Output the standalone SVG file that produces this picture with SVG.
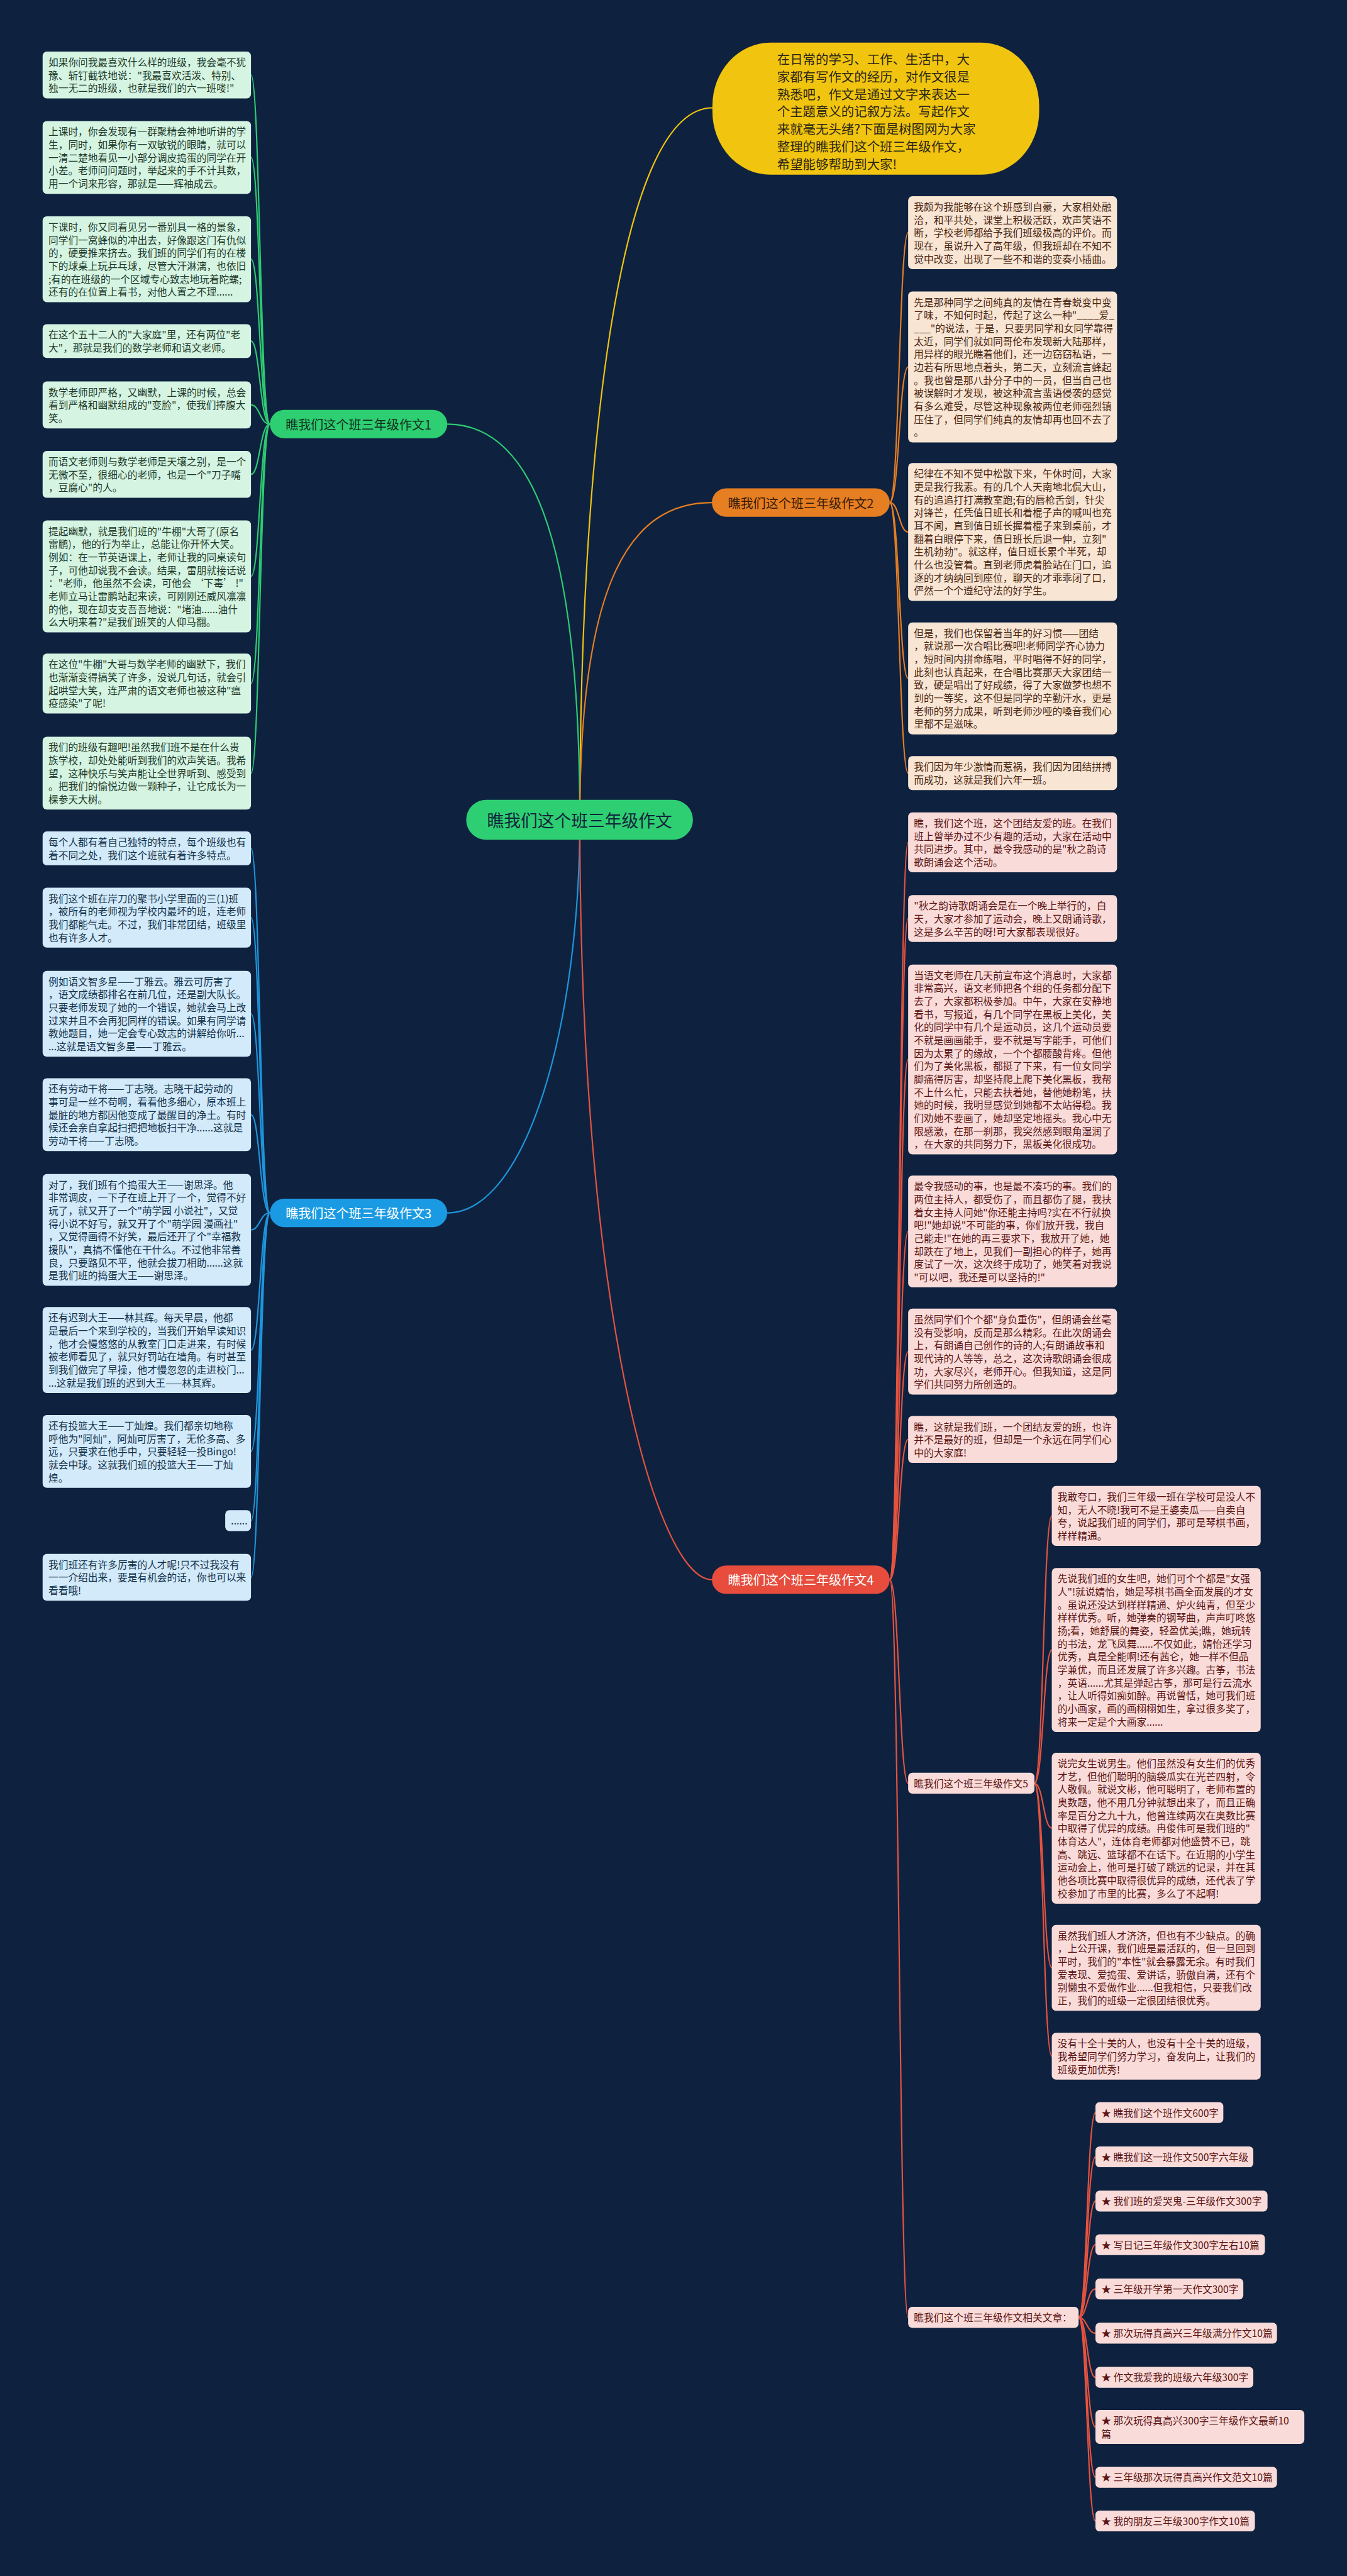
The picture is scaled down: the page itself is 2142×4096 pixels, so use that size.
<svg xmlns="http://www.w3.org/2000/svg" width="2142" height="4096" viewBox="0 0 2142 4096">
<style>
.t{font-family:"Noto Sans CJK SC","Noto Sans",sans-serif;font-size:18.8px}
.lg rect{fill:#d6f4e2}.lg text{fill:#1d3a2b}
.lb rect{fill:#d2eaf9}.lb text{fill:#13314c}
.lo rect{fill:#f8e5d3}.lo text{fill:#4a2612}
.lr rect{fill:#f9dcd9}.lr text{fill:#5c1515}
.c path{fill:none;stroke-width:2.6;stroke-linecap:round}
.cg{stroke:#2ecc71}.co{stroke:#e67e22}.cb{stroke:#1e96dc}.cr{stroke:#e5533f}.cy{stroke:#f1c40f}
.pill text{font-family:"Noto Sans CJK SC","Noto Sans",sans-serif;font-size:24px;text-anchor:middle;dominant-baseline:central}
</style>
<rect width="2142" height="4096" fill="#0e2240"/>
<g transform="scale(0.8367)">
<g id="connectors" class="c">
<g class="cy"><path d="M1102 1558 C1102 900 1170 205 1354 205" stroke-width="3"/></g>
<g class="cg">
<path d="M850 806 C1000 806 1102 1000 1102 1558" stroke-width="3"/>
<path d="M513 806 C494 806 494 142.5 477 142.5"/>
<path d="M513 806 C494 806 494 299 477 299"/>
<path d="M513 806 C494 806 494 492.6 477 492.6"/>
<path d="M513 806 C494 806 494 648.2 477 648.2"/>
<path d="M513 806 C494 806 494 769.5 477 769.5"/>
<path d="M513 806 C494 806 494 901.5 477 901.5"/>
<path d="M513 806 C494 806 494 1095.3 477 1095.3"/>
<path d="M513 806 C494 806 494 1298.9 477 1298.9"/>
<path d="M513 806 C494 806 494 1469.3 477 1469.3"/>
</g>
<g class="co">
<path d="M1353 955 C1200 955 1102 1100 1102 1558" stroke-width="3"/>
<path d="M1691 955 C1709 955 1709 442.3 1726 442.3"/>
<path d="M1691 955 C1709 955 1709 697.4 1726 697.4"/>
<path d="M1691 955 C1709 955 1709 1011 1726 1011"/>
<path d="M1691 955 C1709 955 1709 1289.3 1726 1289.3"/>
<path d="M1691 955 C1709 955 1709 1469.2 1726 1469.2"/>
</g>
<g class="cb">
<path d="M850 2305 C1000 2305 1102 1950 1102 1558" stroke-width="3"/>
<path d="M513 2305 C494 2305 494 1612.2 477 1612.2"/>
<path d="M513 2305 C494 2305 494 1743.9 477 1743.9"/>
<path d="M513 2305 C494 2305 494 1926.6 477 1926.6"/>
<path d="M513 2305 C494 2305 494 2118.3 477 2118.3"/>
<path d="M513 2305 C494 2305 494 2337.3 477 2337.3"/>
<path d="M513 2305 C494 2305 494 2565.6 477 2565.6"/>
<path d="M513 2305 C494 2305 494 2758.3 477 2758.3"/>
<path d="M513 2305 C494 2305 494 2889.9 477 2889.9"/>
<path d="M513 2305 C494 2305 494 2997.5 477 2997.5"/>
</g>
<g class="cr">
<path d="M1353 3002 C1250 3002 1102 2500 1102 1558" stroke-width="3"/>
<path d="M1691 3002 C1709 3002 1709 1601 1726 1601"/>
<path d="M1691 3002 C1709 3002 1709 1745.5 1726 1745.5"/>
<path d="M1691 3002 C1709 3002 1709 2013.4 1726 2013.4"/>
<path d="M1691 3002 C1709 3002 1709 2340.3 1726 2340.3"/>
<path d="M1691 3002 C1709 3002 1709 2568.6 1726 2568.6"/>
<path d="M1691 3002 C1709 3002 1709 2735.5 1726 2735.5"/>
<path d="M1691 3002 C1709 3002 1709 3389 1726 3389"/>
<path d="M1691 3002 C1709 3002 1709 4404 1726 4404"/>
<path d="M1966 3389 C1983 3389 1983 2881 1999 2881"/>
<path d="M1966 3389 C1983 3389 1983 3135.7 1999 3135.7"/>
<path d="M1966 3389 C1983 3389 1983 3474 1999 3474"/>
<path d="M1966 3389 C1983 3389 1983 3739.6 1999 3739.6"/>
<path d="M1966 3389 C1983 3389 1983 3907.5 1999 3907.5"/>
<path d="M2050 4404 C2066 4404 2066 4014.9 2082 4014.9"/>
<path d="M2050 4404 C2066 4404 2066 4098.9 2082 4098.9"/>
<path d="M2050 4404 C2066 4404 2066 4182.9 2082 4182.9"/>
<path d="M2050 4404 C2066 4404 2066 4265.9 2082 4265.9"/>
<path d="M2050 4404 C2066 4404 2066 4349.9 2082 4349.9"/>
<path d="M2050 4404 C2066 4404 2066 4433.9 2082 4433.9"/>
<path d="M2050 4404 C2066 4404 2066 4517.9 2082 4517.9"/>
<path d="M2050 4404 C2066 4404 2066 4612.2 2082 4612.2"/>
<path d="M2050 4404 C2066 4404 2066 4707.9 2082 4707.9"/>
<path d="M2050 4404 C2066 4404 2066 4790.9 2082 4790.9"/>
</g>
</g>

<g id="intro">
<rect x="1354" y="81" width="621" height="251" rx="110" ry="120" fill="#f1c40f"/>
<text x="1477" y="122" font-family="'Noto Sans CJK SC','Noto Sans',sans-serif" font-size="24.4" fill="#2b2616"><tspan x="1477">在日常的学习、工作、生活中，大</tspan><tspan x="1477" dy="33.2">家都有写作文的经历，对作文很是</tspan><tspan x="1477" dy="33.2">熟悉吧，作文是通过文字来表达一</tspan><tspan x="1477" dy="33.2">个主题意义的记叙方法。写起作文</tspan><tspan x="1477" dy="33.2">来就毫无头绪?下面是树图网为大家</tspan><tspan x="1477" dy="33.2">整理的瞧我们这个班三年级作文，</tspan><tspan x="1477" dy="33.2">希望能够帮助到大家!</tspan></text>
</g>

<g id="center" class="pill">
<rect x="886" y="1520" width="431" height="76" rx="38" fill="#2ecf72"/>
<text x="1101.5" y="1558" style="font-size:32px" fill="#10243a">瞧我们这个班三年级作文</text>
</g>
<g id="branch1" class="pill">
<rect x="513" y="779" width="337" height="54" rx="27" fill="#2ecf72"/>
<text x="681.5" y="806" fill="#12301e">瞧我们这个班三年级作文1</text>
</g>
<g id="branch2" class="pill">
<rect x="1353" y="928" width="338" height="54" rx="27" fill="#e67e22"/>
<text x="1522" y="955" fill="#3a1c06">瞧我们这个班三年级作文2</text>
</g>
<g id="branch3" class="pill">
<rect x="513" y="2278" width="337" height="54" rx="27" fill="#1a9ae2"/>
<text x="681.5" y="2305" fill="#ffffff">瞧我们这个班三年级作文3</text>
</g>
<g id="branch4" class="pill">
<rect x="1353" y="2975" width="338" height="54" rx="27" fill="#e74c3c"/>
<text x="1522" y="3002" fill="#ffffff">瞧我们这个班三年级作文4</text>
</g>

<g id="n1" class="lg"><rect x="81" y="98" width="396" height="89.1" rx="8"/><text class="t" x="92" y="125.5"><tspan x="92">如果你问我最喜欢什么样的班级，我会毫不犹</tspan><tspan x="92" dy="24.7">豫、斩钉截铁地说："我最喜欢活泼、特别、</tspan><tspan x="92" dy="24.7">独一无二的班级，也就是我们的六一班喽!"</tspan></text></g>
<g id="n2" class="lg"><rect x="81" y="230" width="396" height="138.5" rx="8"/><text class="t" x="92" y="257.5"><tspan x="92">上课时，你会发现有一群聚精会神地听讲的学</tspan><tspan x="92" dy="24.7">生，同时，如果你有一双敏锐的眼睛，就可以</tspan><tspan x="92" dy="24.7">一清二楚地看见一小部分调皮捣蛋的同学在开</tspan><tspan x="92" dy="24.7">小差。老师问问题时，举起来的手不计其数，</tspan><tspan x="92" dy="24.7">用一个词来形容，那就是——辉袖成云。</tspan></text></g>
<g id="n3" class="lg"><rect x="81" y="411" width="396" height="163.2" rx="8"/><text class="t" x="92" y="438.5"><tspan x="92">下课时，你又同看见另一番别具一格的景象，</tspan><tspan x="92" dy="24.7">同学们一窝蜂似的冲出去，好像跟这门有仇似</tspan><tspan x="92" dy="24.7">的，硬要推来挤去。我们班的同学们有的在楼</tspan><tspan x="92" dy="24.7">下的球桌上玩乒乓球，尽管大汗淋漓，也依旧</tspan><tspan x="92" dy="24.7">;有的在班级的一个区域专心致志地玩着陀螺;</tspan><tspan x="92" dy="24.7">还有的在位置上看书，对他人置之不理......</tspan></text></g>
<g id="n4" class="lg"><rect x="81" y="616" width="396" height="64.4" rx="8"/><text class="t" x="92" y="643.5"><tspan x="92">在这个五十二人的"大家庭"里，还有两位"老</tspan><tspan x="92" dy="24.7">大"，那就是我们的数学老师和语文老师。</tspan></text></g>
<g id="n5" class="lg"><rect x="81" y="725" width="396" height="89.1" rx="8"/><text class="t" x="92" y="752.5"><tspan x="92">数学老师即严格，又幽默，上课的时候，总会</tspan><tspan x="92" dy="24.7">看到严格和幽默组成的"变脸"，使我们捧腹大</tspan><tspan x="92" dy="24.7">笑。</tspan></text></g>
<g id="n6" class="lg"><rect x="81" y="857" width="396" height="89.1" rx="8"/><text class="t" x="92" y="884.5"><tspan x="92">而语文老师则与数学老师是天壤之别，是一个</tspan><tspan x="92" dy="24.7">无微不至，很细心的老师，也是一个"刀子嘴</tspan><tspan x="92" dy="24.7">，豆腐心"的人。</tspan></text></g>
<g id="n7" class="lg"><rect x="81" y="989" width="396" height="212.6" rx="8"/><text class="t" x="92" y="1016.5"><tspan x="92">提起幽默，就是我们班的"牛棚"大哥了(原名</tspan><tspan x="92" dy="24.7">雷鹏)，他的行为举止，总能让你开怀大笑。</tspan><tspan x="92" dy="24.7">例如：在一节英语课上，老师让我的同桌读句</tspan><tspan x="92" dy="24.7">子，可他却说我不会读。结果，雷朋就接话说</tspan><tspan x="92" dy="24.7">："老师，他虽然不会读，可他会 ‘下毒’ !"</tspan><tspan x="92" dy="24.7">老师立马让雷鹏站起来读，可刚刚还威风凛凛</tspan><tspan x="92" dy="24.7">的他，现在却支支吾吾地说："堵油......油什</tspan><tspan x="92" dy="24.7">么大明来着?"是我们班笑的人仰马翻。</tspan></text></g>
<g id="n8" class="lg"><rect x="81" y="1242" width="396" height="113.8" rx="8"/><text class="t" x="92" y="1269.5"><tspan x="92">在这位"牛棚"大哥与数学老师的幽默下，我们</tspan><tspan x="92" dy="24.7">也渐渐变得搞笑了许多，没说几句话，就会引</tspan><tspan x="92" dy="24.7">起哄堂大笑，连严肃的语文老师也被这种"瘟</tspan><tspan x="92" dy="24.7">疫感染"了呢!</tspan></text></g>
<g id="n9" class="lg"><rect x="81" y="1400" width="396" height="138.5" rx="8"/><text class="t" x="92" y="1427.5"><tspan x="92">我们的班级有趣吧!虽然我们班不是在什么贵</tspan><tspan x="92" dy="24.7">族学校，却处处能听到我们的欢声笑语。我希</tspan><tspan x="92" dy="24.7">望，这种快乐与笑声能让全世界听到、感受到</tspan><tspan x="92" dy="24.7">。把我们的愉悦边做一颗种子，让它成长为一</tspan><tspan x="92" dy="24.7">棵参天大树。</tspan></text></g>

<g id="n10" class="lb"><rect x="81" y="1580" width="396" height="64.4" rx="8"/><text class="t" x="92" y="1607.5"><tspan x="92">每个人都有着自己独特的特点，每个班级也有</tspan><tspan x="92" dy="24.7">着不同之处，我们这个班就有着许多特点。</tspan></text></g>
<g id="n11" class="lb"><rect x="81" y="1687" width="396" height="113.8" rx="8"/><text class="t" x="92" y="1714.5"><tspan x="92">我们这个班在岸刀的聚书小学里面的三(1)班</tspan><tspan x="92" dy="24.7">，被所有的老师视为学校内最坏的班，连老师</tspan><tspan x="92" dy="24.7">我们都能气走。不过，我们非常团结，班级里</tspan><tspan x="92" dy="24.7">也有许多人才。</tspan></text></g>
<g id="n12" class="lb"><rect x="81" y="1845" width="396" height="163.2" rx="8"/><text class="t" x="92" y="1872.5"><tspan x="92">例如语文智多星——丁雅云。雅云可厉害了</tspan><tspan x="92" dy="24.7">，语文成绩都排名在前几位，还是副大队长。</tspan><tspan x="92" dy="24.7">只要老师发现了她的一个错误，她就会马上改</tspan><tspan x="92" dy="24.7">过来并且不会再犯同样的错误。如果有同学请</tspan><tspan x="92" dy="24.7">教她题目，她一定会专心致志的讲解给你听...</tspan><tspan x="92" dy="24.7">...这就是语文智多星——丁雅云。</tspan></text></g>
<g id="n13" class="lb"><rect x="81" y="2049" width="396" height="138.5" rx="8"/><text class="t" x="92" y="2076.5"><tspan x="92">还有劳动干将——丁志晓。志晓干起劳动的</tspan><tspan x="92" dy="24.7">事可是一丝不苟啊，看看他多细心，原本班上</tspan><tspan x="92" dy="24.7">最脏的地方都因他变成了最醒目的净土。有时</tspan><tspan x="92" dy="24.7">候还会亲自拿起扫把把地板扫干净......这就是</tspan><tspan x="92" dy="24.7">劳动干将——丁志晓。</tspan></text></g>
<g id="n14" class="lb"><rect x="81" y="2231" width="396" height="212.6" rx="8"/><text class="t" x="92" y="2258.5"><tspan x="92">对了，我们班有个捣蛋大王——谢思泽。他</tspan><tspan x="92" dy="24.7">非常调皮，一下子在班上开了一个，觉得不好</tspan><tspan x="92" dy="24.7">玩了，就又开了一个"萌学园 小说社"，又觉</tspan><tspan x="92" dy="24.7">得小说不好写，就又开了个"萌学园 漫画社"</tspan><tspan x="92" dy="24.7">，又觉得画得不好笑，最后还开了个"幸福救</tspan><tspan x="92" dy="24.7">援队"，真搞不懂他在干什么。不过他非常善</tspan><tspan x="92" dy="24.7">良，只要路见不平，他就会拔刀相助......这就</tspan><tspan x="92" dy="24.7">是我们班的捣蛋大王——谢思泽。</tspan></text></g>
<g id="n15" class="lb"><rect x="81" y="2484" width="396" height="163.2" rx="8"/><text class="t" x="92" y="2511.5"><tspan x="92">还有迟到大王——林其辉。每天早晨，他都</tspan><tspan x="92" dy="24.7">是最后一个来到学校的，当我们开始早读知识</tspan><tspan x="92" dy="24.7">，他才会慢悠悠的从教室门口走进来，有时候</tspan><tspan x="92" dy="24.7">被老师看见了，就只好罚站在墙角。有时甚至</tspan><tspan x="92" dy="24.7">到我们做完了早操，他才慢忽忽的走进校门...</tspan><tspan x="92" dy="24.7">...这就是我们班的迟到大王——林其辉。</tspan></text></g>
<g id="n16" class="lb"><rect x="81" y="2689" width="396" height="138.5" rx="8"/><text class="t" x="92" y="2716.5"><tspan x="92">还有投篮大王——丁灿煌。我们都亲切地称</tspan><tspan x="92" dy="24.7">呼他为"阿灿"，阿灿可厉害了，无伦多高、多</tspan><tspan x="92" dy="24.7">远，只要求在他手中，只要轻轻一投Bingo!</tspan><tspan x="92" dy="24.7">就会中球。这就我们班的投篮大王——丁灿</tspan><tspan x="92" dy="24.7">煌。</tspan></text></g>
<g id="n17" class="lb"><rect x="428" y="2870" width="49" height="39.7" rx="8"/><text class="t" x="439" y="2897.5">......</text></g>
<g id="n18" class="lb"><rect x="81" y="2953" width="396" height="89.1" rx="8"/><text class="t" x="92" y="2980.5"><tspan x="92">我们班还有许多厉害的人才呢!只不过我没有</tspan><tspan x="92" dy="24.7">一一介绍出来，要是有机会的话，你也可以来</tspan><tspan x="92" dy="24.7">看看哦!</tspan></text></g>

<g id="r1" class="lo"><rect x="1726" y="373" width="397" height="138.5" rx="8"/><text class="t" x="1737" y="400.5"><tspan x="1737">我颇为我能够在这个班感到自豪，大家相处融</tspan><tspan x="1737" dy="24.7">洽，和平共处，课堂上积极活跃，欢声笑语不</tspan><tspan x="1737" dy="24.7">断，学校老师都给予我们班级极高的评价。而</tspan><tspan x="1737" dy="24.7">现在，虽说升入了高年级，但我班却在不知不</tspan><tspan x="1737" dy="24.7">觉中改变，出现了一些不和谐的变奏小插曲。</tspan></text></g>
<g id="r2" class="lo"><rect x="1726" y="554" width="397" height="286.7" rx="8"/><text class="t" x="1737" y="581.5"><tspan x="1737">先是那种同学之间纯真的友情在青春蜕变中变</tspan><tspan x="1737" dy="24.7">了味，不知何时起，传起了这么一种"____爱_</tspan><tspan x="1737" dy="24.7">___"的说法，于是，只要男同学和女同学靠得</tspan><tspan x="1737" dy="24.7">太近，同学们就如同哥伦布发现新大陆那样，</tspan><tspan x="1737" dy="24.7">用异样的眼光瞧着他们，还一边窃窃私语，一</tspan><tspan x="1737" dy="24.7">边若有所思地点着头，第二天，立刻流言蜂起</tspan><tspan x="1737" dy="24.7">。我也曾是那八卦分子中的一员，但当自己也</tspan><tspan x="1737" dy="24.7">被误解时才发现，被这种流言蜚语侵袭的感觉</tspan><tspan x="1737" dy="24.7">有多么难受，尽管这种现象被两位老师强烈镇</tspan><tspan x="1737" dy="24.7">压住了，但同学们纯真的友情却再也回不去了</tspan><tspan x="1737" dy="24.7">。</tspan></text></g>
<g id="r3" class="lo"><rect x="1726" y="880" width="397" height="262" rx="8"/><text class="t" x="1737" y="907.5"><tspan x="1737">纪律在不知不觉中松散下来，午休时间，大家</tspan><tspan x="1737" dy="24.7">更是我行我素。有的几个人天南地北侃大山，</tspan><tspan x="1737" dy="24.7">有的追追打打满教室跑;有的唇枪舌剑，针尖</tspan><tspan x="1737" dy="24.7">对锋芒，任凭值日班长和着棍子声的喊叫也充</tspan><tspan x="1737" dy="24.7">耳不闻，直到值日班长握着棍子来到桌前，才</tspan><tspan x="1737" dy="24.7">翻着白眼停下来，值日班长后退一伸，立刻"</tspan><tspan x="1737" dy="24.7">生机勃勃"。就这样，值日班长累个半死，却</tspan><tspan x="1737" dy="24.7">什么也没管着。直到老师虎着脸站在门口，追</tspan><tspan x="1737" dy="24.7">逐的才纳纳回到座位，聊天的才乖乖闭了口，</tspan><tspan x="1737" dy="24.7">俨然一个个遵纪守法的好学生。</tspan></text></g>
<g id="r4" class="lo"><rect x="1726" y="1183" width="397" height="212.6" rx="8"/><text class="t" x="1737" y="1210.5"><tspan x="1737">但是，我们也保留着当年的好习惯——团结</tspan><tspan x="1737" dy="24.7">，就说那一次合唱比赛吧!老师同学齐心协力</tspan><tspan x="1737" dy="24.7">，短时间内拼命练唱，平时唱得不好的同学，</tspan><tspan x="1737" dy="24.7">此刻也认真起来，在合唱比赛那天大家团结一</tspan><tspan x="1737" dy="24.7">致，硬是唱出了好成绩，得了大家做梦也想不</tspan><tspan x="1737" dy="24.7">到的一等奖，这不但是同学的辛勤汗水，更是</tspan><tspan x="1737" dy="24.7">老师的努力成果，听到老师沙哑的嗓音我们心</tspan><tspan x="1737" dy="24.7">里都不是滋味。</tspan></text></g>
<g id="r5" class="lo"><rect x="1726" y="1437" width="397" height="64.4" rx="8"/><text class="t" x="1737" y="1464.5"><tspan x="1737">我们因为年少激情而惹祸，我们因为团结拼搏</tspan><tspan x="1737" dy="24.7">而成功，这就是我们六年一班。</tspan></text></g>

<g id="r6" class="lr"><rect x="1726" y="1544" width="397" height="113.8" rx="8"/><text class="t" x="1737" y="1571.5"><tspan x="1737">瞧，我们这个班，这个团结友爱的班。在我们</tspan><tspan x="1737" dy="24.7">班上曾举办过不少有趣的活动，大家在活动中</tspan><tspan x="1737" dy="24.7">共同进步。其中，最令我感动的是"秋之韵诗</tspan><tspan x="1737" dy="24.7">歌朗诵会这个活动。</tspan></text></g>
<g id="r7" class="lr"><rect x="1726" y="1701" width="397" height="89.1" rx="8"/><text class="t" x="1737" y="1728.5"><tspan x="1737">"秋之韵诗歌朗诵会是在一个晚上举行的，白</tspan><tspan x="1737" dy="24.7">天，大家才参加了运动会，晚上又朗诵诗歌，</tspan><tspan x="1737" dy="24.7">这是多么辛苦的呀!可大家都表现很好。</tspan></text></g>
<g id="r8" class="lr"><rect x="1726" y="1833" width="397" height="360.8" rx="8"/><text class="t" x="1737" y="1860.5"><tspan x="1737">当语文老师在几天前宣布这个消息时，大家都</tspan><tspan x="1737" dy="24.7">非常高兴，语文老师把各个组的任务都分配下</tspan><tspan x="1737" dy="24.7">去了，大家都积极参加。中午，大家在安静地</tspan><tspan x="1737" dy="24.7">看书，写报道，有几个同学在黑板上美化，美</tspan><tspan x="1737" dy="24.7">化的同学中有几个是运动员，这几个运动员要</tspan><tspan x="1737" dy="24.7">不就是画画能手，要不就是写字能手，可他们</tspan><tspan x="1737" dy="24.7">因为太累了的缘故，一个个都腰酸背疼。但他</tspan><tspan x="1737" dy="24.7">们为了美化黑板，都挺了下来，有一位女同学</tspan><tspan x="1737" dy="24.7">脚痛得厉害，却坚持爬上爬下美化黑板，我帮</tspan><tspan x="1737" dy="24.7">不上什么忙，只能去扶着她，替他她粉笔，扶</tspan><tspan x="1737" dy="24.7">她的时候，我明显感觉到她都不太站得稳。我</tspan><tspan x="1737" dy="24.7">们劝她不要画了，她却坚定地摇头。我心中无</tspan><tspan x="1737" dy="24.7">限感激，在那一刹那，我突然感到眼角湿润了</tspan><tspan x="1737" dy="24.7">，在大家的共同努力下，黑板美化很成功。</tspan></text></g>
<g id="r9" class="lr"><rect x="1726" y="2234" width="397" height="212.6" rx="8"/><text class="t" x="1737" y="2261.5"><tspan x="1737">最令我感动的事，也是最不凑巧的事。我们的</tspan><tspan x="1737" dy="24.7">两位主持人，都受伤了，而且都伤了腿，我扶</tspan><tspan x="1737" dy="24.7">着女主持人问她"你还能主持吗?实在不行就换</tspan><tspan x="1737" dy="24.7">吧!"她却说"不可能的事，你们放开我，我自</tspan><tspan x="1737" dy="24.7">己能走!"在她的再三要求下，我放开了她，她</tspan><tspan x="1737" dy="24.7">却跌在了地上，见我们一副担心的样子，她再</tspan><tspan x="1737" dy="24.7">度试了一次，这次终于成功了，她笑着对我说</tspan><tspan x="1737" dy="24.7">"可以吧，我还是可以坚持的!"</tspan></text></g>
<g id="r10" class="lr"><rect x="1726" y="2487" width="397" height="163.2" rx="8"/><text class="t" x="1737" y="2514.5"><tspan x="1737">虽然同学们个个都"身负重伤"，但朗诵会丝毫</tspan><tspan x="1737" dy="24.7">没有受影响，反而是那么精彩。在此次朗诵会</tspan><tspan x="1737" dy="24.7">上，有朗诵自己创作的诗的人;有朗诵故事和</tspan><tspan x="1737" dy="24.7">现代诗的人等等，总之，这次诗歌朗诵会很成</tspan><tspan x="1737" dy="24.7">功，大家尽兴，老师开心。但我知道，这是同</tspan><tspan x="1737" dy="24.7">学们共同努力所创造的。</tspan></text></g>
<g id="r11" class="lr"><rect x="1726" y="2691" width="397" height="89.1" rx="8"/><text class="t" x="1737" y="2718.5"><tspan x="1737">瞧，这就是我们班，一个团结友爱的班，也许</tspan><tspan x="1737" dy="24.7">并不是最好的班，但却是一个永远在同学们心</tspan><tspan x="1737" dy="24.7">中的大家庭!</tspan></text></g>
<g id="branch5" class="lr"><rect x="1726" y="3369" width="240" height="39.7" rx="8"/><text class="t" x="1737" y="3396.5">瞧我们这个班三年级作文5</text></g>
<g id="r12" class="lr"><rect x="1999" y="2824" width="397" height="113.8" rx="8"/><text class="t" x="2010" y="2851.5"><tspan x="2010">我敢夸口，我们三年级一班在学校可是没人不</tspan><tspan x="2010" dy="24.7">知，无人不晓!我可不是王婆卖瓜——自卖自</tspan><tspan x="2010" dy="24.7">夸，说起我们班的同学们，那可是琴棋书画，</tspan><tspan x="2010" dy="24.7">样样精通。</tspan></text></g>
<g id="r13" class="lr"><rect x="1999" y="2980" width="397" height="311.4" rx="8"/><text class="t" x="2010" y="3007.5"><tspan x="2010">先说我们班的女生吧，她们可个个都是"女强</tspan><tspan x="2010" dy="24.7">人"!就说婧怡，她是琴棋书画全面发展的才女</tspan><tspan x="2010" dy="24.7">。虽说还没达到样样精通、炉火纯青，但至少</tspan><tspan x="2010" dy="24.7">样样优秀。听，她弹奏的钢琴曲，声声叮咚悠</tspan><tspan x="2010" dy="24.7">扬;看，她舒展的舞姿，轻盈优美;瞧，她玩转</tspan><tspan x="2010" dy="24.7">的书法，龙飞凤舞......不仅如此，婧怡还学习</tspan><tspan x="2010" dy="24.7">优秀，真是全能啊!还有茜仑，她一样不但品</tspan><tspan x="2010" dy="24.7">学兼优，而且还发展了许多兴趣。古筝，书法</tspan><tspan x="2010" dy="24.7">，英语......尤其是弹起古筝，那可是行云流水</tspan><tspan x="2010" dy="24.7">，让人听得如痴如醉。再说曾恬，她可我们班</tspan><tspan x="2010" dy="24.7">的小画家，画的画栩栩如生，拿过很多奖了，</tspan><tspan x="2010" dy="24.7">将来一定是个大画家......</tspan></text></g>
<g id="r14" class="lr"><rect x="1999" y="3331" width="397" height="286.7" rx="8"/><text class="t" x="2010" y="3358.5"><tspan x="2010">说完女生说男生。他们虽然没有女生们的优秀</tspan><tspan x="2010" dy="24.7">才艺，但他们聪明的脑袋瓜实在光芒四射，令</tspan><tspan x="2010" dy="24.7">人敬佩。就说文彬，他可聪明了，老师布置的</tspan><tspan x="2010" dy="24.7">奥数题，他不用几分钟就想出来了，而且正确</tspan><tspan x="2010" dy="24.7">率是百分之九十九，他曾连续两次在奥数比赛</tspan><tspan x="2010" dy="24.7">中取得了优异的成绩。冉俊伟可是我们班的"</tspan><tspan x="2010" dy="24.7">体育达人"，连体育老师都对他盛赞不已，跳</tspan><tspan x="2010" dy="24.7">高、跳远、篮球都不在话下。在近期的小学生</tspan><tspan x="2010" dy="24.7">运动会上，他可是打破了跳远的记录，并在其</tspan><tspan x="2010" dy="24.7">他各项比赛中取得很优异的成绩，还代表了学</tspan><tspan x="2010" dy="24.7">校参加了市里的比赛，多么了不起啊!</tspan></text></g>
<g id="r15" class="lr"><rect x="1999" y="3658" width="397" height="163.2" rx="8"/><text class="t" x="2010" y="3685.5"><tspan x="2010">虽然我们班人才济济，但也有不少缺点。的确</tspan><tspan x="2010" dy="24.7">，上公开课，我们班是最活跃的，但一旦回到</tspan><tspan x="2010" dy="24.7">平时，我们的"本性"就会暴露无余。有时我们</tspan><tspan x="2010" dy="24.7">爱表现、爱捣蛋、爱讲话，骄傲自满，还有个</tspan><tspan x="2010" dy="24.7">别懒虫不爱做作业......但我相信，只要我们改</tspan><tspan x="2010" dy="24.7">正，我们的班级一定很团结很优秀。</tspan></text></g>
<g id="r16" class="lr"><rect x="1999" y="3863" width="397" height="89.1" rx="8"/><text class="t" x="2010" y="3890.5"><tspan x="2010">没有十全十美的人，也没有十全十美的班级，</tspan><tspan x="2010" dy="24.7">我希望同学们努力学习，奋发向上，让我们的</tspan><tspan x="2010" dy="24.7">班级更加优秀!</tspan></text></g>

<g id="related" class="lr"><rect x="1726" y="4384" width="324" height="40" rx="8"/><text class="t" x="1737" y="4411.5">瞧我们这个班三年级作文相关文章：</text></g>
<g id="li1" class="lr"><rect x="2082" y="3995" width="243" height="39.7" rx="8"/><text class="t" x="2093" y="4022.5">★ 瞧我们这个班作文600字</text></g>
<g id="li2" class="lr"><rect x="2082" y="4079" width="300" height="39.7" rx="8"/><text class="t" x="2093" y="4106.5">★ 瞧我们这一班作文500字六年级</text></g>
<g id="li3" class="lr"><rect x="2082" y="4163" width="327" height="39.7" rx="8"/><text class="t" x="2093" y="4190.5">★ 我们班的爱哭鬼-三年级作文300字</text></g>
<g id="li4" class="lr"><rect x="2082" y="4246" width="322" height="39.7" rx="8"/><text class="t" x="2093" y="4273.5">★ 写日记三年级作文300字左右10篇</text></g>
<g id="li5" class="lr"><rect x="2082" y="4330" width="281" height="39.7" rx="8"/><text class="t" x="2093" y="4357.5">★ 三年级开学第一天作文300字</text></g>
<g id="li6" class="lr"><rect x="2082" y="4414" width="345" height="39.7" rx="8"/><text class="t" x="2093" y="4441.5">★ 那次玩得真高兴三年级满分作文10篇</text></g>
<g id="li7" class="lr"><rect x="2082" y="4498" width="300" height="39.7" rx="8"/><text class="t" x="2093" y="4525.5">★ 作文我爱我的班级六年级300字</text></g>
<g id="li8" class="lr"><rect x="2082" y="4580" width="397" height="64.4" rx="8"/><text class="t" x="2093" y="4607.5"><tspan x="2093">★ 那次玩得真高兴300字三年级作文最新10</tspan><tspan x="2093" dy="24.7">篇</tspan></text></g>
<g id="li9" class="lr"><rect x="2082" y="4688" width="345" height="39.7" rx="8"/><text class="t" x="2093" y="4715.5">★ 三年级那次玩得真高兴作文范文10篇</text></g>
<g id="li10" class="lr"><rect x="2082" y="4771" width="303" height="39.7" rx="8"/><text class="t" x="2093" y="4798.5">★ 我的朋友三年级300字作文10篇</text></g>
</g>
</svg>
